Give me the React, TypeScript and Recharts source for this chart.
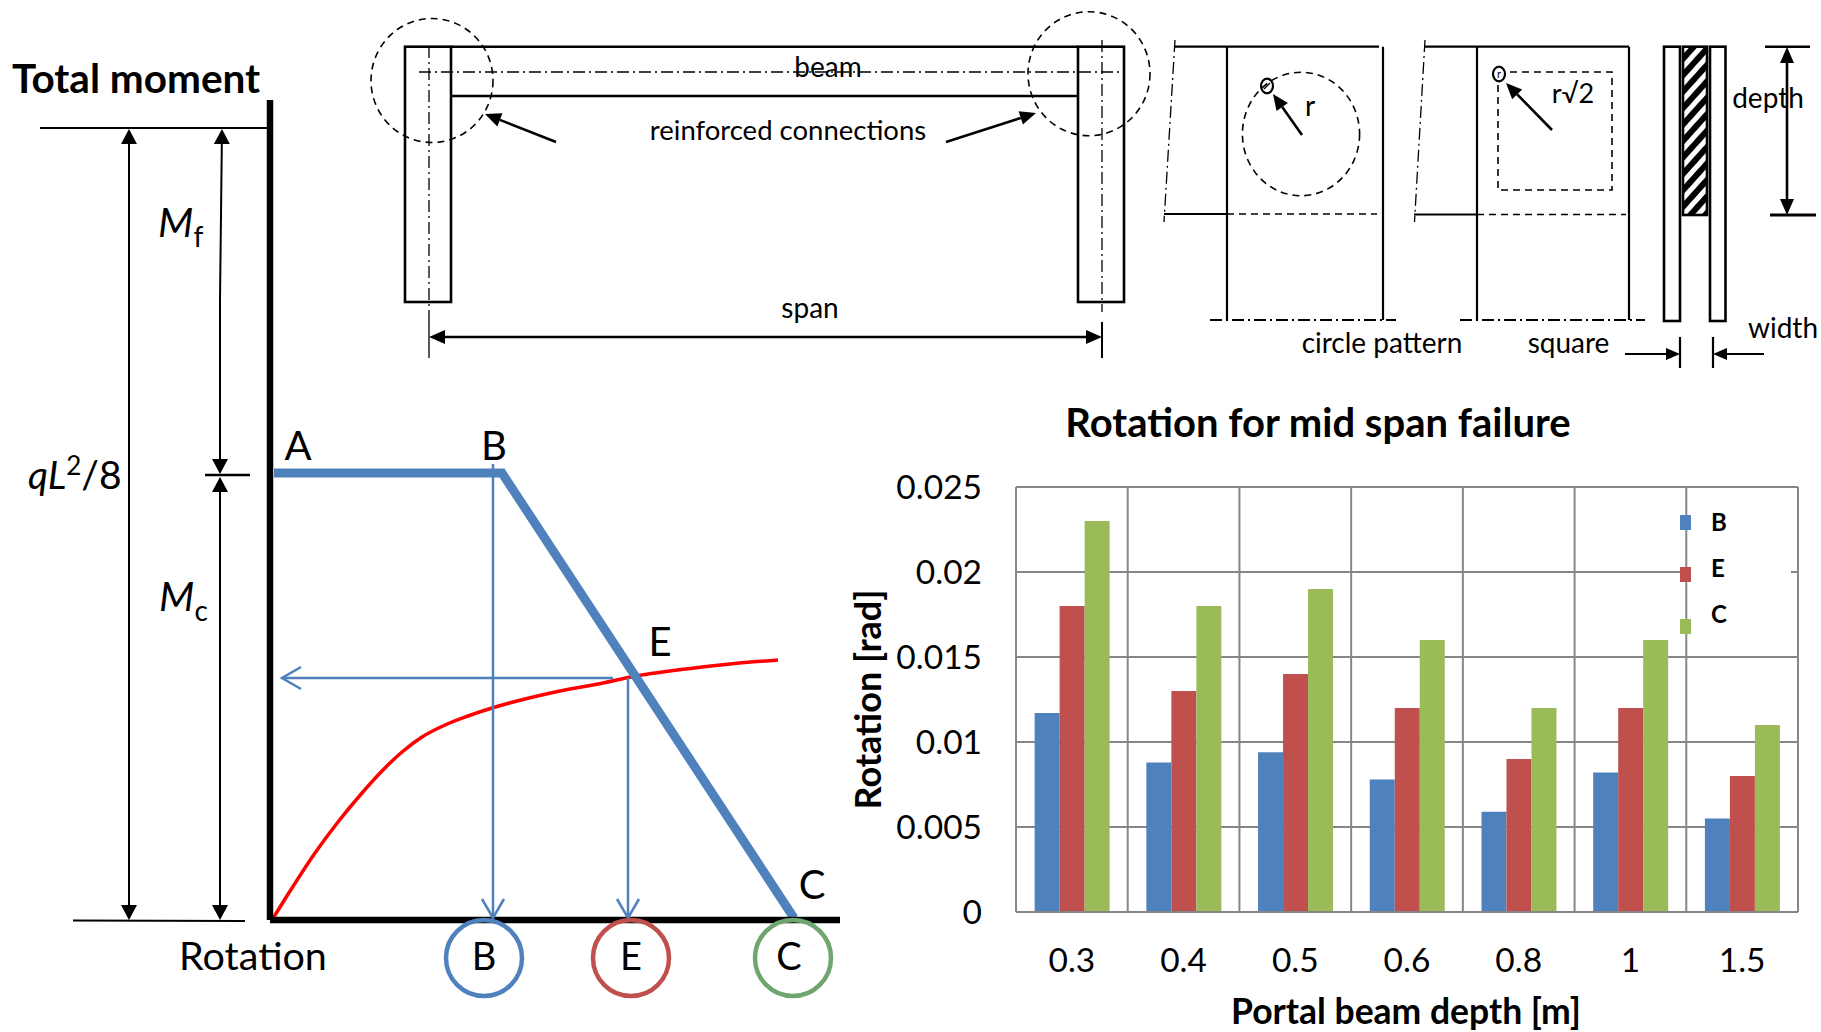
import {
  Bar,
  BarChart,
  CartesianGrid,
  Legend,
  Line,
  LineChart,
  XAxis,
  YAxis,
} from "recharts";

const FONT = "Lato, 'Open Sans', sans-serif";

// bar chart data
const depths = ["0.3", "0.4", "0.5", "0.6", "0.8", "1", "1.5"];
const rotationB = [0.0117, 0.0088, 0.0094, 0.0078, 0.0059, 0.0082, 0.0055];
const rotationE = [0.018, 0.013, 0.014, 0.012, 0.009, 0.012, 0.008];
const rotationC = [0.023, 0.018, 0.019, 0.016, 0.012, 0.016, 0.011];
const rotationTicks = [0, 0.005, 0.01, 0.015, 0.02, 0.025];

const barData = depths.map((depth, i) => ({
  depth,
  B: rotationB[i],
  E: rotationE[i],
  C: rotationC[i],
}));

// moment-rotation sketch, arbitrary units
const capacityLine = [
  { rotation: 4, moment: 447 },
  { rotation: 232, moment: 447 },
  { rotation: 524, moment: 2 },
];
const responseCurve = [
  { rotation: 2, moment: 0 },
  { rotation: 22, moment: 32 },
  { rotation: 45, moment: 67 },
  { rotation: 68, moment: 98 },
  { rotation: 92, moment: 127 },
  { rotation: 112, moment: 149 },
  { rotation: 132, moment: 168 },
  { rotation: 152, moment: 183 },
  { rotation: 175, moment: 195 },
  { rotation: 198, moment: 204 },
  { rotation: 222, moment: 212 },
  { rotation: 255, moment: 221 },
  { rotation: 295, moment: 230 },
  { rotation: 333, moment: 237 },
  { rotation: 361, moment: 243 },
  { rotation: 416, moment: 251 },
  { rotation: 460, moment: 256 },
  { rotation: 508, moment: 260 },
];
const guideB = [
  { rotation: 223, moment: 456 },
  { rotation: 223, moment: 3 },
];
const guideE = [
  { rotation: 358, moment: 242 },
  { rotation: 358, moment: 3 },
];
const guideMoment = [
  { rotation: 343, moment: 242 },
  { rotation: 12, moment: 242 },
];

const BLUE = "#4f81bd";
const RED = "#c0504d";
const GREEN = "#9bbb59";
const GRID = "#868686";

function Arrow({ x1, y1, x2, y2, w = 2, len = 15, half = 8 }: any) {
  const a = Math.atan2(y2 - y1, x2 - x1);
  const c = Math.cos(a);
  const s = Math.sin(a);
  const bx = x2 - len * c;
  const by = y2 - len * s;
  return (
    <g>
      <line x1={x1} y1={y1} x2={bx} y2={by} stroke="#000" strokeWidth={w} />
      <polygon
        points={`${x2},${y2} ${bx - half * s},${by + half * c} ${bx + half * s},${by - half * c}`}
        fill="#000"
      />
    </g>
  );
}

function OpenHead({ x, y, angle }: any) {
  return (
    <path
      d="M-19,-11 L0,0 L-19,11"
      transform={`translate(${x},${y}) rotate(${angle})`}
      fill="none"
      stroke={BLUE}
      strokeWidth={2.5}
    />
  );
}

function T({ x, y, size = 28, anchor = "middle", bold, children }: any) {
  return (
    <text
      x={x}
      y={y}
      fontFamily={FONT}
      fontSize={size}
      fontWeight={bold ? 700 : 400}
      textAnchor={anchor}
      dominantBaseline="central"
      fill="#000"
    >
      {children}
    </text>
  );
}

function Sketches() {
  const thin = { stroke: "#000", strokeWidth: 1.3, fill: "none" };
  const dashDot = { ...thin, strokeDasharray: "12 4 2 4" };
  const dashed = { stroke: "#000", strokeWidth: 1.6, fill: "none", strokeDasharray: "7 5" };
  const frame = { stroke: "#000", strokeWidth: 2.6, fill: "none" };
  const thick = { stroke: "#000", strokeWidth: 2.2, fill: "none" };
  return (
    <svg
      width={1821}
      height={1032}
      style={{ position: "absolute", left: 0, top: 0, pointerEvents: "none" }}
    >
      <defs>
        <pattern
          id="hatch"
          patternUnits="userSpaceOnUse"
          width={11}
          height={11}
          patternTransform="rotate(-48)"
        >
          <rect width={11} height={11} fill="#fff" />
          <rect width={11} height={6} fill="#000" />
        </pattern>
      </defs>

      {/* left dimensions */}
      <T x={12} y={77} size={40.5} anchor="start" bold>Total moment</T>
      <line x1={40} y1={128} x2={267} y2={128} stroke="#000" strokeWidth={2} />
      <line x1={73} y1={920.5} x2={245} y2={921} stroke="#000" strokeWidth={2} />
      <line x1={205} y1={475} x2={250} y2={475} stroke="#000" strokeWidth={2.5} />
      <Arrow x1={129} y1={524} x2={129} y2={129} />
      <Arrow x1={129} y1={524} x2={129} y2={920} />
      <Arrow x1={220} y1={300} x2={222} y2={129} />
      <Arrow x1={220} y1={300} x2={220} y2={474} />
      <Arrow x1={220} y1={700} x2={220} y2={477} />
      <Arrow x1={220} y1={700} x2={220} y2={920} />
      <text x={28} y={489} fontFamily={FONT} fontSize={39}>
        <tspan fontStyle="italic">qL</tspan>
        <tspan fontSize={26} dy={-14}>2</tspan>
        <tspan dy={14}>/8</tspan>
      </text>
      <text x={158} y={237} fontFamily={FONT} fontSize={41}>
        <tspan fontStyle="italic">M</tspan>
        <tspan fontSize={28} dy={10}>f</tspan>
      </text>
      <text x={159} y={611} fontFamily={FONT} fontSize={41}>
        <tspan fontStyle="italic">M</tspan>
        <tspan fontSize={28} dy={10}>c</tspan>
      </text>

      {/* labels on the moment-rotation sketch */}
      <T x={298} y={445} size={40}>A</T>
      <T x={494} y={445} size={40}>B</T>
      <T x={660} y={641} size={40}>E</T>
      <T x={812} y={884} size={40}>C</T>
      <T x={253} y={954} size={39.5}>Rotation</T>
      <OpenHead x={282} y={678} angle={180} />
      <OpenHead x={493} y={918} angle={90} />
      <OpenHead x={628} y={918} angle={90} />
      <circle cx={484} cy={958} r={38} fill="none" stroke={BLUE} strokeWidth={4.5} />
      <circle cx={631} cy={958} r={38} fill="none" stroke={RED} strokeWidth={4.5} />
      <circle cx={793} cy={958} r={38} fill="none" stroke="#6fa56f" strokeWidth={4.5} />
      <T x={484} y={955} size={38}>B</T>
      <T x={631} y={955} size={38}>E</T>
      <T x={789} y={955} size={38}>C</T>

      {/* portal frame */}
      <rect x={405} y={46.7} width={46} height={255.3} {...frame} />
      <rect x={1078} y={46.7} width={46} height={255.3} {...frame} />
      <line x1={451} y1={46.7} x2={1078} y2={46.7} {...frame} />
      <line x1={451} y1={96} x2={1078} y2={96} {...frame} />
      <line x1={419} y1={72} x2={1120} y2={72} {...dashDot} />
      <line x1={429} y1={46} x2={429} y2={320} {...dashDot} />
      <line x1={1102} y1={40} x2={1102} y2={312} {...dashDot} />
      <line x1={429} y1={320} x2={429} y2={358} {...thin} />
      <line x1={1102} y1={322} x2={1102} y2={358} stroke="#000" strokeWidth={2} />
      <ellipse cx={432} cy={80.5} rx={61} ry={62} {...dashed} />
      <ellipse cx={1089} cy={73.7} rx={61} ry={62} {...dashed} />
      <Arrow x1={765} y1={337} x2={429} y2={337} w={2.6} len={16} half={7} />
      <Arrow x1={765} y1={337} x2={1102} y2={337} w={2.6} len={16} half={7} />
      <Arrow x1={556} y1={142} x2={485} y2={114} w={2.6} len={16} half={7} />
      <Arrow x1={946} y1={142} x2={1036} y2={113} w={2.6} len={16} half={7} />
      <T x={828} y={66}>beam</T>
      <T x={788} y={129} size={27.5}>reinforced connections</T>
      <T x={810} y={307}>span</T>

      {/* circle pattern */}
      <line x1={1175} y1={40} x2={1164} y2={222} {...dashDot} />
      <line x1={1175} y1={46.7} x2={1379} y2={46.7} {...thick} />
      <line x1={1227} y1={46.7} x2={1227} y2={320} {...thick} />
      <line x1={1383} y1={46.7} x2={1383} y2={320} {...thick} />
      <line x1={1164} y1={214} x2={1227} y2={214} {...thick} />
      <line x1={1227} y1={214} x2={1377} y2={214} {...dashed} />
      <line x1={1210} y1={320} x2={1396} y2={320} {...dashDot} strokeWidth={2} />
      <ellipse cx={1301} cy={134} rx={58.6} ry={61.7} {...dashed} />
      <ellipse cx={1267} cy={86} rx={6} ry={7.3} {...thick} />
      <line x1={1264} y1={89} x2={1270} y2={83} {...thin} />
      <Arrow x1={1302} y1={135} x2={1273} y2={94} w={2.6} len={16} half={7} />
      <T x={1310} y={105}>r</T>
      <T x={1382} y={342}>circle pattern</T>

      {/* square pattern */}
      <line x1={1425} y1={40} x2={1414.5} y2={222} {...dashDot} />
      <line x1={1425} y1={46.7} x2={1629} y2={46.7} {...thick} />
      <line x1={1477} y1={46.7} x2={1477} y2={320} {...thick} />
      <line x1={1629} y1={46.7} x2={1629} y2={320} {...thick} />
      <line x1={1414} y1={214.5} x2={1477} y2={214.5} {...thick} />
      <line x1={1477} y1={214.5} x2={1626} y2={214.5} {...dashed} />
      <line x1={1460} y1={320} x2={1645} y2={320} {...dashDot} strokeWidth={2} />
      <rect x={1498} y={72} width={114} height={118} {...dashed} />
      <ellipse cx={1499} cy={74} rx={6} ry={7.3} {...thick} fill="#fff" />
      <T x={1499} y={73} size={11}>r</T>
      <Arrow x1={1552} y1={130} x2={1506} y2={83} w={2.6} len={16} half={7} />
      <T x={1573} y={92} size={27}>r√2</T>
      <T x={1568.5} y={342}>square</T>

      {/* beam section */}
      <rect x={1664} y={46.7} width={16} height={274.3} {...frame} />
      <rect x={1710} y={46.7} width={15.5} height={274.3} {...frame} />
      <rect x={1683} y={46.7} width={24} height={168.3} fill="url(#hatch)" stroke="#000" strokeWidth={2.6} />
      <line x1={1765} y1={46.7} x2={1810} y2={46.7} stroke="#000" strokeWidth={2.6} />
      <line x1={1770} y1={215} x2={1816} y2={215} stroke="#000" strokeWidth={3} />
      <Arrow x1={1787} y1={130} x2={1787} y2={47} w={2.6} len={16} half={7} />
      <Arrow x1={1787} y1={130} x2={1787} y2={215} w={2.6} len={16} half={7} />
      <T x={1768} y={97}>depth</T>
      <T x={1783} y={327}>width</T>
      <line x1={1680} y1={337} x2={1680} y2={368} {...thick} />
      <line x1={1713} y1={337} x2={1713} y2={368} {...thick} />
      <Arrow x1={1625} y1={354} x2={1680} y2={354} w={2.2} len={14} half={6} />
      <Arrow x1={1764} y1={354} x2={1713} y2={354} w={2.2} len={14} half={6} />

      {/* bar chart title */}
      <T x={1318} y={422} size={40} bold>Rotation for mid span failure</T>
    </svg>
  );
}

function BarLegend({ payload }: any) {
  return (
    <div style={{ position: "relative", width: 111, height: 151 }}>
      <div
        style={{ position: "absolute", left: 11, top: 0, width: 100, height: 151, background: "#fff" }}
      />
      {(payload || []).map((entry: any, i: number) => (
        <div key={entry.value}>
          <div
            style={{
              position: "absolute",
              left: 0,
              top: 10 + i * 52,
              width: 11,
              height: 15,
              background: entry.color,
            }}
          />
          <div
            style={{
              position: "absolute",
              left: 31,
              top: 3 + i * 46,
              fontFamily: FONT,
              fontWeight: 700,
              fontSize: 24,
              lineHeight: "28px",
              color: "#000",
            }}
          >
            {entry.value}
          </div>
        </div>
      ))}
    </div>
  );
}

export default function App() {
  return (
    <div style={{ position: "absolute", left: 0, top: 0, width: 1821, height: 1032, background: "#fff", overflow: "hidden" }}>
      <div style={{ position: "absolute", left: 260, top: 90 }}>
        <LineChart
          width={590}
          height={840}
          margin={{ left: 9, right: 10, top: 10, bottom: 9 }}
          data={responseCurve}
        >
          <XAxis
            type="number"
            dataKey="rotation"
            domain={[0, 570]}
            ticks={[0]}
            tick={false}
            tickLine={false}
            height={1}
            axisLine={{ stroke: "#000", strokeWidth: 6.5 }}
          />
          <YAxis
            type="number"
            domain={[0, 820]}
            ticks={[0]}
            tick={false}
            tickLine={false}
            width={1}
            axisLine={{ stroke: "#000", strokeWidth: 6.5 }}
          />
          <Line
            data={responseCurve}
            dataKey="moment"
            type="monotone"
            stroke="#ff0000"
            strokeWidth={3.5}
            dot={false}
            isAnimationActive={false}
          />
          <Line data={guideB} dataKey="moment" stroke={BLUE} strokeWidth={2.5} dot={false} isAnimationActive={false} />
          <Line data={guideE} dataKey="moment" stroke={BLUE} strokeWidth={2.5} dot={false} isAnimationActive={false} />
          <Line data={guideMoment} dataKey="moment" stroke={BLUE} strokeWidth={2.5} dot={false} isAnimationActive={false} />
          <Line
            data={capacityLine}
            dataKey="moment"
            stroke={BLUE}
            strokeWidth={9}
            strokeLinejoin="miter"
            dot={false}
            isAnimationActive={false}
          />
        </LineChart>
      </div>

      <div style={{ position: "absolute", left: 830, top: 390 }}>
        <BarChart
          width={991}
          height={642}
          data={barData}
          margin={{ left: 0, right: 23, top: 97, bottom: 0 }}
          barCategoryGap="16.67%"
          barGap={0}
        >
          <CartesianGrid
            stroke={GRID}
            strokeWidth={2}
            verticalCoordinatesGenerator={({ offset }: any) =>
              [...depths, ""].map((_, i) => offset.left + (i * offset.width) / depths.length)
            }
          />
          <XAxis
            dataKey="depth"
            interval={0}
            height={120}
            tickLine={false}
            tickMargin={30}
            axisLine={{ stroke: GRID, strokeWidth: 2 }}
            tick={{ fill: "#000", fontFamily: FONT, fontSize: 33.5 }}
            label={{
              value: "Portal beam depth [m]",
              position: "insideBottom",
              offset: 8,
              dx: -1,
              style: { fill: "#000", fontFamily: FONT, fontSize: 35.5, fontWeight: 700 },
            }}
          />
          <YAxis
            width={186}
            domain={[0, 0.025]}
            ticks={rotationTicks}
            interval={0}
            tickLine={false}
            tickMargin={28}
            axisLine={{ stroke: GRID, strokeWidth: 2 }}
            tick={{ fill: "#000", fontFamily: FONT, fontSize: 33.5 }}
            label={{
              value: "Rotation [rad]",
              angle: -90,
              position: "insideLeft",
              offset: 38,
              dy: 0,
              style: { fill: "#000", fontFamily: FONT, fontSize: 36, fontWeight: 700, textAnchor: "middle" },
            }}
          />
          <Legend
            layout="vertical"
            align="center"
            verticalAlign="middle"
            itemSorter={null}
            content={BarLegend}
            wrapperStyle={{ left: 850, top: 115, width: 111, height: 151 }}
          />
          <Bar dataKey="B" fill={BLUE} isAnimationActive={false} />
          <Bar dataKey="E" fill={RED} isAnimationActive={false} />
          <Bar dataKey="C" fill={GREEN} isAnimationActive={false} />
        </BarChart>
      </div>

      <Sketches />
    </div>
  );
}
